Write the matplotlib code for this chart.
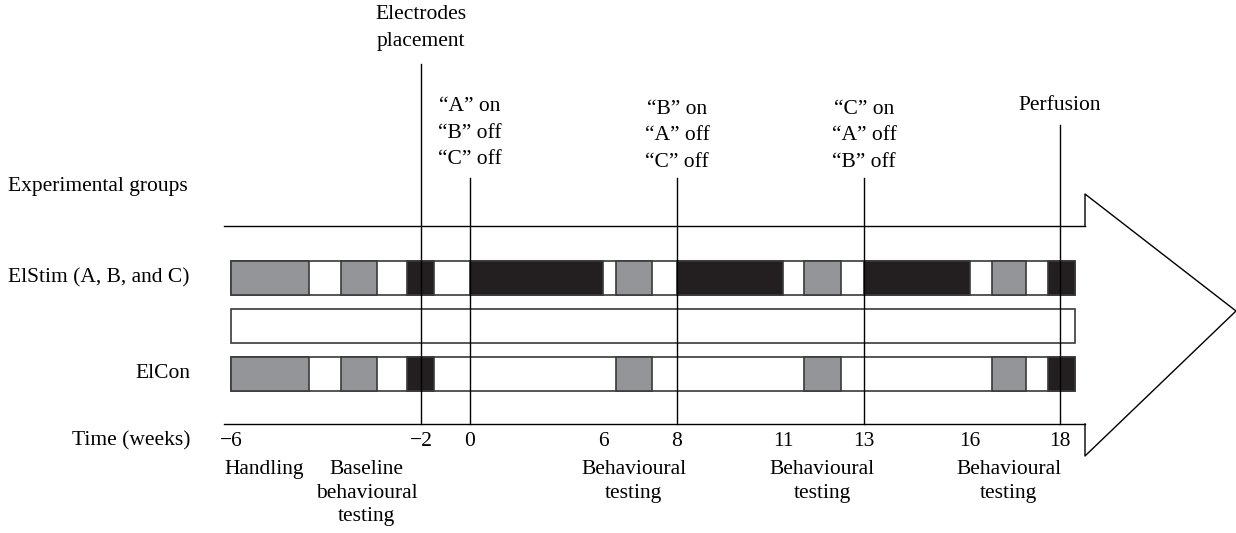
import matplotlib
matplotlib.use('Agg')
import matplotlib.pyplot as plt
import numpy as np

plt.rcParams['font.family'] = ['Liberation Serif', 'DejaVu Serif']

# time axis (weeks) and where each tick sits on the drawing
tick_weeks = [-6, -2, 0, 6, 8, 11, 13, 16, 18]
tick_labels = ['\u22126', '\u22122', '0', '6', '8', '11', '13', '16', '18']
tick_px = [231, 421, 470, 603, 677, 783, 864, 970, 1060]

groups = ['ElStim (A, B, and C)', 'ElCon']

# phases (start week, end week)
handling = (-6.0, -4.35)
baseline = (-3.68, -2.93)
surgery = (-2.29, -1.47)
stim_blocks = [(0, 6), (8, 11), (13, 16)]
behav_tests = [(6.35, 7.32), (11.52, 12.43), (16.49, 17.24)]
final_block = (17.73, 18.33)
row_span = (-6.0, 18.33)

# events marked with vertical lines
event_weeks = [-2, 0, 8, 13, 18]
event_labels = ['Electrodes\nplacement',
                '\u201cA\u201d on\n\u201cB\u201d off\n\u201cC\u201d off',
                '\u201cB\u201d on\n\u201cA\u201d off\n\u201cC\u201d off',
                '\u201cC\u201d on\n\u201cA\u201d off\n\u201cB\u201d off',
                'Perfusion']

phase_labels = ['Handling', 'Baseline\nbehavioural\ntesting', 'Behavioural\ntesting',
                'Behavioural\ntesting', 'Behavioural\ntesting']
phase_label_weeks = [-5.3, -3.14, 6.83, 11.97, 16.86]

GREY = '#939598'
BLACK = '#231f20'
EDGE = '#3a3a3a'
FS = 15.5

# piecewise-linear week scale, extended past the end ticks
knot_w = np.array([-11.0] + tick_weeks + [22.0])
knot_p = np.array([231 - 5 * 47.5] + tick_px + [1060 + 4 * 44.5])


def fwd(w):
    return np.interp(w, knot_w, knot_p)


def inv(p):
    return np.interp(p, knot_p, knot_w)


fig = plt.figure(figsize=(12.36, 5.33), dpi=100)
ax = fig.add_axes([0, 0, 1, 1])
ax.set_xscale('function', functions=(fwd, inv))
ax.set_xlim(inv(0), inv(1236))
ax.set_ylim(533, 0)
ax.axis('off')

# overlay in pixel units for the arrow outline and row labels
ov = fig.add_axes([0, 0, 1, 1], zorder=-1)
ov.set_xlim(0, 1236)
ov.set_ylim(533, 0)
ov.axis('off')

# arrow body and head
ov.plot([224, 1085], [226, 226], color='black', lw=1.0)
ov.plot([224, 1085], [424, 424], color='black', lw=1.0)
ov.plot([1085, 1085, 1236, 1085, 1085], [226, 194, 311, 456, 424], color='black', lw=1.0)

row_y = {'ElStim (A, B, and C)': 278, 'blank': 325.5, 'ElCon': 374}
row_h = 34


def box(y, span, color, z=3):
    ax.barh(y, span[1] - span[0], left=span[0], height=row_h, color=color,
            edgecolor=EDGE, linewidth=1.2, zorder=z)


for g in groups + ['blank']:
    box(row_y[g], row_span, 'white', z=2)

for g in groups:
    y = row_y[g]
    box(y, handling, GREY)
    box(y, baseline, GREY)
    box(y, surgery, BLACK)
    for b in behav_tests:
        box(y, b, GREY)
    box(y, final_block, BLACK)

for s in stim_blocks:
    box(row_y['ElStim (A, B, and C)'], s, BLACK)

# event lines and labels
line_tops = [64, 178, 178, 178, 125]
label_y = [28, 133, 136, 136, 106]
for w, top, lab, ly in zip(event_weeks, line_tops, event_labels, label_y):
    ax.plot([w, w], [top, 424], color='black', lw=1.0, zorder=4)
    ax.text(w, ly, lab, ha='center', va='center', fontsize=FS, linespacing=1.56)

# tick labels
for w, lab in zip(tick_weeks, tick_labels):
    ax.text(w, 441, lab, ha='center', va='center', fontsize=FS)

# phase labels below the axis
for w, lab in zip(phase_label_weeks, phase_labels):
    ax.text(w, 460, lab, ha='center', va='top', fontsize=FS, linespacing=1.33)

# left-hand labels
ov.text(8, 186, 'Experimental groups', ha='left', va='center', fontsize=FS)
ov.text(190, row_y['ElStim (A, B, and C)'], 'ElStim (A, B, and C)', ha='right', va='center', fontsize=FS)
ov.text(190, row_y['ElCon'], 'ElCon', ha='right', va='center', fontsize=FS)
ov.text(190, 441, 'Time (weeks)', ha='right', va='center', fontsize=FS)

fig.savefig('out.png', dpi=100)
